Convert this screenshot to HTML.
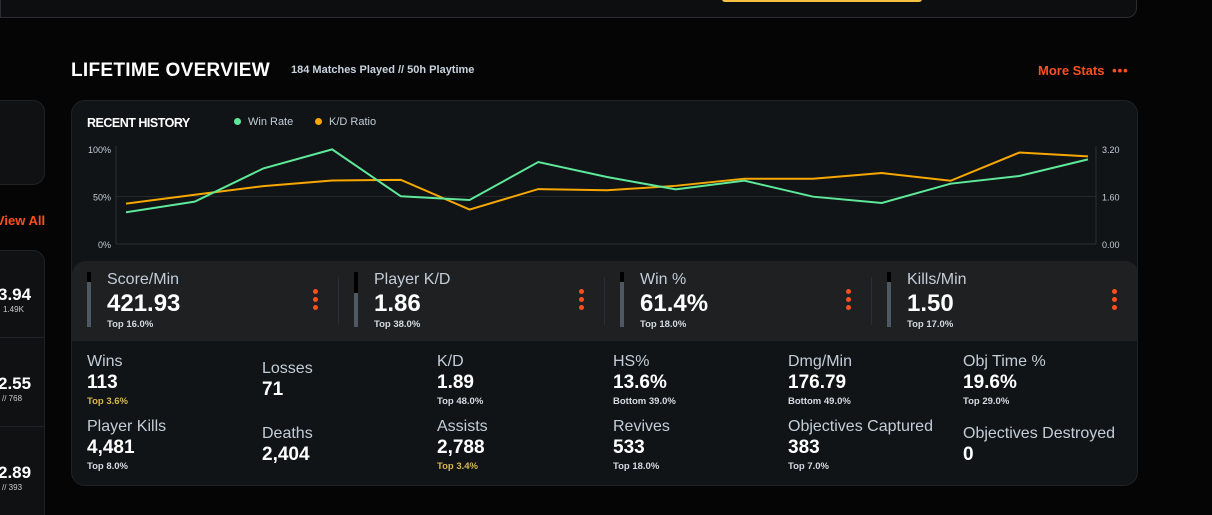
<!DOCTYPE html>
<html><head><meta charset="utf-8">
<style>
*{margin:0;padding:0;box-sizing:border-box}
html,body{width:1212px;height:515px;overflow:hidden}
body{background:#050505;font-family:"Liberation Sans",sans-serif;position:relative;color:#fff}
.a{position:absolute;white-space:nowrap}
.lbl{color:#c3cdd9;font-size:16px}
.val{font-weight:bold;font-size:19px;color:#fff}
.sub{font-size:9.5px;color:#d4dbe3;font-weight:bold}
.big{font-weight:bold;font-size:24px}
.dots{position:absolute;width:5px}
.dots i{display:block;width:5px;height:5px;border-radius:50%;background:#ff4f1f;margin-bottom:3px}
</style></head><body>
<div class="a" style="left:0;top:-20px;width:1137px;height:38px;background:#0d0e0f;border:1px solid #2a2c2f;border-top:none;border-radius:0 0 10px 0"></div>
<div class="a" style="left:722px;top:-4px;width:200px;height:6px;background:#f4c145;border-radius:3px"></div>

<div class="a" style="left:-20px;top:100px;width:65px;height:85px;background:#0f1113;border:1px solid #1f2225;border-radius:12px"></div>
<div class="a" style="left:-4px;top:213px;color:#ff4f1f;font-weight:bold;font-size:13px">View All</div>
<div class="a" style="left:-20px;top:250px;width:65px;height:290px;background:#0f1113;border:1px solid #1f2225;border-radius:12px"></div>
<div class="a" style="left:0;top:337px;width:45px;height:1px;background:#1f2225"></div>
<div class="a" style="left:0;top:426px;width:45px;height:1px;background:#1f2225"></div>
<div class="a" style="left:-2px;top:285px;font-weight:bold;font-size:17px">3.94</div>
<div class="a" style="left:3px;top:305px;font-size:8px;color:#ccc">1.49K</div>
<div class="a" style="left:-2px;top:374px;font-weight:bold;font-size:17px">2.55</div>
<div class="a" style="left:2px;top:394px;font-size:8px;color:#ccc">// 768</div>
<div class="a" style="left:-2px;top:463px;font-weight:bold;font-size:17px">2.89</div>
<div class="a" style="left:2px;top:483px;font-size:8px;color:#ccc">// 393</div>

<div class="a" style="left:71px;top:60px;font-size:19px;font-weight:bold;letter-spacing:0.3px">LIFETIME OVERVIEW</div>
<div class="a" style="left:291px;top:64px;font-size:11px;color:#c9d3e0;font-weight:bold">184 Matches Played // 50h Playtime</div>
<div class="a" style="left:1038px;top:63px;font-size:13px;color:#ff4f1f;font-weight:bold">More Stats <span style="letter-spacing:1px;margin-left:4px">•••</span></div>

<div class="a" style="left:71px;top:100px;width:1067px;height:386px;background:#111416;border:1px solid #1f2225;border-radius:14px;overflow:hidden">
 <div class="a" style="left:0;top:160px;width:1067px;height:80px;background:#1f2021;border-radius:14px 14px 0 0"></div>
</div>

<div class="a" style="left:87px;top:116px;font-size:12.5px;font-weight:bold;letter-spacing:-0.5px">RECENT HISTORY</div>
<div class="a" style="left:234px;top:116px;font-size:11px;color:#c3cdd9"><span style="display:inline-block;width:7px;height:7px;border-radius:50%;background:#5ee89a;margin-right:7px"></span>Win Rate</div>
<div class="a" style="left:315px;top:116px;font-size:11px;color:#c3cdd9"><span style="display:inline-block;width:7px;height:7px;border-radius:50%;background:#f7a800;margin-right:7px"></span>K/D Ratio</div>

<svg class="a" style="left:0;top:0" width="1212" height="260" id="chart"></svg>

<script>
const winRate=[33.4,44.6,79.6,99.6,50.2,46.3,86.3,70.5,57.5,66.7,49.8,43.2,63.5,71.6,89.1];
const kdRatio=[1.36,1.66,1.95,2.14,2.16,1.16,1.85,1.81,1.96,2.2,2.2,2.39,2.13,3.08,2.95];
const leftTicks=["0%","50%","100%"];
const leftTickVals=[0,50,100];
const rightTicks=["0.00","1.60","3.20"];
const rightTickVals=[0,1.6,3.2];
const NS="http://www.w3.org/2000/svg";
const svg=document.getElementById('chart');
const x0=126,x1=1088,yTop=149,yBot=244,axL=116,axR=1096;
const xs=i=>x0+(x1-x0)*i/(winRate.length-1);
const yL=v=>yBot-(v/100)*(yBot-yTop);
const yR=v=>yBot-(v/3.2)*(yBot-yTop);
function mk(t,a){const e=document.createElementNS(NS,t);for(const k in a)e.setAttribute(k,a[k]);svg.appendChild(e);return e;}
leftTickVals.forEach((v,i)=>{
 if(v<100){
  const g=mk('line',{x1:axL,x2:axR,y1:yL(v),y2:yL(v),stroke:v===0?'#2c3036':'#24272b','stroke-width':1});
  
  
 }
 const t=mk('text',{x:111,y:yL(v)+4,'text-anchor':'end','font-size':'9','fill':'#c3cdd9','font-family':'Liberation Sans'});
 t.textContent=leftTicks[i];
 
 
});
rightTickVals.forEach((v,i)=>{
 const t=mk('text',{x:1102,y:yR(v)+4,'font-size':'9','fill':'#c3cdd9','font-family':'Liberation Sans'});
 t.textContent=rightTicks[i];
 
 
});
const la=mk('line',{x1:axL,x2:axL,y1:yTop-3,y2:yBot,stroke:'#2c3036'});


const ra=mk('line',{x1:axR,x2:axR,y1:yTop-3,y2:yBot,stroke:'#2c3036'});


const kd=mk('polyline',{points:kdRatio.map((v,i)=>xs(i)+','+yR(v)).join(' '),fill:'none',stroke:'#f7a800','stroke-width':2});


const wr=mk('polyline',{points:winRate.map((v,i)=>xs(i)+','+yL(v)).join(' '),fill:'none',stroke:'#5ee89a','stroke-width':2});


</script>

<div>
 <div class="a" style="left:87px;top:272px;width:4px;height:55px;background:#4f5964"></div><div class="a" style="left:87px;top:272px;width:4px;height:10px;background:#000"></div>
 <div class="a lbl" style="left:107px;top:271px">Score/Min</div>
 <div class="a big" style="left:107px;top:290px">421.93</div>
 <div class="a sub" style="left:107px;top:319px">Top 16.0%</div>
 <div class="dots" style="left:313px;top:289px"><i></i><i></i><i></i></div>
 <div class="a" style="left:338px;top:277px;width:1px;height:48px;background:#2c2e31"></div>
</div>
<div>
 <div class="a" style="left:354px;top:272px;width:4px;height:55px;background:#4f5964"></div><div class="a" style="left:354px;top:272px;width:4px;height:21px;background:#000"></div>
 <div class="a lbl" style="left:374px;top:271px">Player K/D</div>
 <div class="a big" style="left:374px;top:290px">1.86</div>
 <div class="a sub" style="left:374px;top:319px">Top 38.0%</div>
 <div class="dots" style="left:579px;top:289px"><i></i><i></i><i></i></div>
 <div class="a" style="left:604px;top:277px;width:1px;height:48px;background:#2c2e31"></div>
</div>
<div>
 <div class="a" style="left:620px;top:272px;width:4px;height:55px;background:#4f5964"></div><div class="a" style="left:620px;top:272px;width:4px;height:10px;background:#000"></div>
 <div class="a lbl" style="left:640px;top:271px">Win %</div>
 <div class="a big" style="left:640px;top:290px">61.4%</div>
 <div class="a sub" style="left:640px;top:319px">Top 18.0%</div>
 <div class="dots" style="left:846px;top:289px"><i></i><i></i><i></i></div>
 <div class="a" style="left:871px;top:277px;width:1px;height:48px;background:#2c2e31"></div>
</div>
<div>
 <div class="a" style="left:887px;top:272px;width:4px;height:55px;background:#4f5964"></div><div class="a" style="left:887px;top:272px;width:4px;height:10px;background:#000"></div>
 <div class="a lbl" style="left:907px;top:271px">Kills/Min</div>
 <div class="a big" style="left:907px;top:290px">1.50</div>
 <div class="a sub" style="left:907px;top:319px">Top 17.0%</div>
 <div class="dots" style="left:1112px;top:289px"><i></i><i></i><i></i></div>
</div>

<div><div class="a lbl" style="left:87px;top:353px">Wins</div><div class="a val" style="left:87px;top:372px">113</div><div class="a sub" style="left:87px;top:396px;color:#d7b750">Top 3.6%</div></div>
<div><div class="a lbl" style="left:262px;top:360px">Losses</div><div class="a val" style="left:262px;top:379px">71</div></div>
<div><div class="a lbl" style="left:437px;top:353px">K/D</div><div class="a val" style="left:437px;top:372px">1.89</div><div class="a sub" style="left:437px;top:396px">Top 48.0%</div></div>
<div><div class="a lbl" style="left:613px;top:353px">HS%</div><div class="a val" style="left:613px;top:372px">13.6%</div><div class="a sub" style="left:613px;top:396px">Bottom 39.0%</div></div>
<div><div class="a lbl" style="left:788px;top:353px">Dmg/Min</div><div class="a val" style="left:788px;top:372px">176.79</div><div class="a sub" style="left:788px;top:396px">Bottom 49.0%</div></div>
<div><div class="a lbl" style="left:963px;top:353px">Obj Time %</div><div class="a val" style="left:963px;top:372px">19.6%</div><div class="a sub" style="left:963px;top:396px">Top 29.0%</div></div>

<div><div class="a lbl" style="left:87px;top:418px">Player Kills</div><div class="a val" style="left:87px;top:437px">4,481</div><div class="a sub" style="left:87px;top:461px">Top 8.0%</div></div>
<div><div class="a lbl" style="left:262px;top:425px">Deaths</div><div class="a val" style="left:262px;top:444px">2,404</div></div>
<div><div class="a lbl" style="left:437px;top:418px">Assists</div><div class="a val" style="left:437px;top:437px">2,788</div><div class="a sub" style="left:437px;top:461px;color:#d7b750">Top 3.4%</div></div>
<div><div class="a lbl" style="left:613px;top:418px">Revives</div><div class="a val" style="left:613px;top:437px">533</div><div class="a sub" style="left:613px;top:461px">Top 18.0%</div></div>
<div><div class="a lbl" style="left:788px;top:418px">Objectives Captured</div><div class="a val" style="left:788px;top:437px">383</div><div class="a sub" style="left:788px;top:461px">Top 7.0%</div></div>
<div><div class="a lbl" style="left:963px;top:425px">Objectives Destroyed</div><div class="a val" style="left:963px;top:444px">0</div></div>
</body></html>
